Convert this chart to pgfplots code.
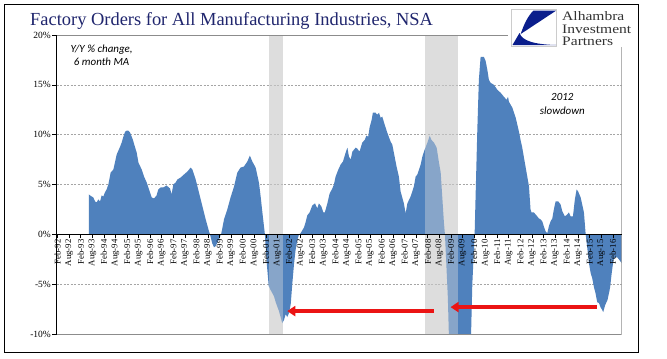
\documentclass[border=0pt]{standalone}
\usepackage{pgfplots}
\pgfplotsset{compat=1.18}
\usepackage{fontspec}
\setmainfont{Liberation Serif}
\newfontfamily\calib{Carlito}
\usetikzlibrary{arrows.meta}
\definecolor{areablue}{RGB}{79,129,189}
\definecolor{bandgray}{RGB}{221,221,221}
\definecolor{titleblue}{RGB}{32,38,110}
\definecolor{logoblue}{RGB}{10,30,140}
\definecolor{arrowred}{RGB}{235,20,20}
\definecolor{gridgray}{RGB}{165,165,165}
\definecolor{bordergray}{RGB}{140,140,140}

\pgfplotstableread{
m v
17.2 4.0
17.8 3.9
19.5 3.7
20.4 3.3
21.2 3.2
22.1 3.5
23.0 3.3
23.8 3.9
24.7 3.8
25.5 4.2
26.4 4.5
27.3 5.0
28.5 6.2
29.9 6.5
30.7 7.2
31.6 8.0
33.4 8.8
34.2 9.2
35.1 9.8
36.0 10.3
36.8 10.4
37.7 10.4
38.6 10.2
40.0 9.5
41.2 8.7
42.0 8.2
42.9 7.2
44.6 6.5
45.8 5.8
47.2 5.2
48.9 4.2
49.8 3.7
51.0 3.6
52.3 3.9
53.2 4.5
54.4 4.7
55.8 4.7
57.5 4.9
59.3 4.6
60.1 4.0
61.0 5.0
62.2 5.2
63.1 5.5
64.8 5.7
66.5 6.0
68.3 6.3
70.0 6.7
70.9 6.5
72.6 5.5
74.3 4.2
76.1 2.8
77.8 1.5
79.5 0.3
80.0 0
81.2 -0.9
82.1 -1.3
82.9 -1.2
84.7 -0.5
85.9 0.1
87.3 1.5
89.0 2.5
90.7 3.7
92.5 4.8
94.2 6.2
95.9 6.7
97.6 6.8
99.4 7.3
100.7 7.9
102.0 7.3
103.7 6.7
105.4 5.2
106.3 3.8
107.2 2.2
108.5 0
109.5 -3.0
110.5 -5.2
111.5 -5.6
113.2 -6.2
114.1 -6.8
115.8 -7.7
117.5 -8.9
118.4 -8.6
119.3 -8.0
120.1 -8.3
121.0 -7.9
121.9 -7.0
122.7 -5.0
123.6 -3.0
124.4 -1.6
125.3 -0.6
126.2 0
127.0 0.1
127.9 0.4
128.8 0.7
129.6 1.2
130.5 1.9
131.7 2.2
133.1 2.9
134.5 3.1
135.7 2.6
136.5 3.1
137.8 2.8
138.8 2.2
139.6 2.2
140.9 3.1
142.1 4.1
143.5 4.6
144.3 5.0
145.2 5.8
146.6 6.5
147.8 7.0
149.0 7.3
150.4 8.2
151.3 8.7
152.1 7.8
153.0 7.5
153.9 8.3
155.6 8.7
156.4 8.6
157.6 8.3
159.0 9.2
160.4 9.5
161.1 9.9
162.1 9.8
162.8 10.7
163.9 11.5
164.5 12.2
165.9 12.2
166.8 12.0
167.7 12.2
168.5 11.7
169.4 11.8
170.8 10.9
172.0 10.2
173.7 9.3
174.6 9.0
175.4 8.2
176.8 6.8
178.0 5.8
178.9 4.3
180.6 3.1
181.5 2.1
182.4 3.1
184.1 3.8
185.8 4.8
186.7 5.8
187.6 6.0
189.3 7.0
190.2 7.8
191.4 8.5
192.8 9.2
194.0 9.9
194.8 9.5
196.2 9.2
197.6 8.7
198.8 7.2
199.7 6.2
200.5 3.8
201.4 1.1
201.9 0
202.6 -2.9
203.4 -6.3
204.0 -10.5
205.0 -18
207.0 -24
210.0 -24
213.0 -20
215.2 -12
216.1 -5
217.3 0
217.8 3.8
218.7 10.5
219.5 15.5
220.4 17.8
222.1 17.8
223.0 17.4
223.9 16.5
224.7 15.5
225.6 15.2
227.3 15.0
229.1 14.5
230.8 14.2
232.5 13.8
233.9 13.5
234.6 13.8
235.1 13.3
236.9 12.7
238.6 11.7
240.3 10.3
241.1 9.5
242.0 8.7
242.8 7.8
243.7 6.8
244.6 5.8
245.5 4.8
246.3 2.5
246.8 2.2
248.0 2.2
248.9 2.0
249.8 1.8
250.6 1.6
251.5 1.5
252.4 1.3
253.2 0.8
254.1 0.3
255.0 0.1
255.8 0.8
256.7 1.3
257.6 1.6
258.4 2.5
259.3 3.3
260.7 3.3
261.9 3.0
262.8 2.3
264.1 1.8
265.4 2.0
266.2 2.2
267.1 1.8
268.3 1.8
269.3 3.5
270.2 4.5
271.0 4.3
272.3 3.7
273.1 3.0
274.0 2.2
274.9 0
275.7 -1.3
276.6 -2.9
277.5 -3.9
278.3 -4.4
279.2 -5.3
280.0 -5.9
280.9 -6.8
281.8 -6.9
282.6 -7.3
283.5 -7.6
284.0 -7.8
285.0 -7.1
286.2 -6.6
287.0 -5.9
287.6 -5.3
288.4 -3.9
289.3 -2.6
290.1 -2.3
291.3 -2.3
292.5 -2.6
293.6 -2.9
}\orders

\begin{document}
\begin{tikzpicture}[x=1bp,y=1bp]
\path[use as bounding box] (0,0) rectangle (667,358);
\fill[white] (0,0) rectangle (667,358);
\begin{axis}[
  at={(56.5bp,24bp)}, anchor=south west,
  scale only axis, width=565.2bp, height=299bp,
  xmin=0.4, xmax=293.6, ymin=-10, ymax=20,
  axis x line=middle, axis y line=left,
  axis line style={-, black, line width=0.7bp},
  hide obscured x ticks=false, hide obscured y ticks=false,
  axis on top,
  tick align=outside, major tick length=4bp,
  tick style={black, line width=0.6bp},
  xtick={1,7,...,289},
  xticklabels={Feb-92,Aug-92,Feb-93,Aug-93,Feb-94,Aug-94,Feb-95,Aug-95,Feb-96,Aug-96,Feb-97,Aug-97,Feb-98,Aug-98,Feb-99,Aug-99,Feb-00,Aug-00,Feb-01,Aug-01,Feb-02,Aug-02,Feb-03,Aug-03,Feb-04,Aug-04,Feb-05,Aug-05,Feb-06,Aug-06,Feb-07,Aug-07,Feb-08,Aug-08,Feb-09,Aug-09,Feb-10,Aug-10,Feb-11,Aug-11,Feb-12,Aug-12,Feb-13,Aug-13,Feb-14,Aug-14,Feb-15,Aug-15,Feb-16},
  xticklabel style={rotate=90, anchor=east, inner sep=1bp, font=\fontsize{8.8}{8.8}\selectfont},
  ytick={-10,-5,0,5,10,15,20},
  yticklabels={-10\%,-5\%,0\%,5\%,10\%,15\%,20\%},
  yticklabel style={inner sep=1.5bp, font=\fontsize{9.5}{9.5}\selectfont},
  clip=true,
]
% recession bands (underlay)
\fill[bandgray] (axis cs:110.5,-10) rectangle (axis cs:117.8,20);
\fill[bandgray] (axis cs:191.4,-10) rectangle (axis cs:208.6,20);
% grid
\foreach \g in {15,10,5,-5}{
  \edef\tmp{\noexpand\draw[gridgray, line width=0.5bp, dash pattern=on 2bp off 1.5bp] (axis cs:0.4,\g) -- (axis cs:293.6,\g);}\tmp
}
\addplot[fill=areablue, draw=none] table[x=m, y=v] {\orders} \closedcycle;
% recession bands overlay
\fill[bandgray, fill opacity=0.4] (axis cs:110.5,-10) rectangle (axis cs:117.8,20);
\fill[bandgray, fill opacity=0.4] (axis cs:191.4,-10) rectangle (axis cs:208.6,20);
% border
\draw[bordergray, line width=0.7bp] (rel axis cs:0,1) -- (rel axis cs:1,1) -- (rel axis cs:1,0) -- (rel axis cs:0,0);
% arrows
\draw[arrowred, line width=3.2bp, -{Triangle[length=8bp,width=10bp]}] (axis cs:196.0,-7.7) -- (axis cs:120.1,-7.7);
\draw[arrowred, line width=3.2bp, -{Triangle[length=8bp,width=10bp]}] (axis cs:280.6,-7.3) -- (axis cs:204.8,-7.3);
% annotations
\node[font=\calib\itshape\fontsize{11}{12.7}\selectfont, align=center, inner sep=0] at (axis cs:23.8,18.0) {Y/Y \% change,\\6 month MA};
\node[font=\calib\itshape\fontsize{11}{14}\selectfont, align=center, inner sep=0] at (axis cs:262.8,13.1) {2012\\slowdown};
\end{axis}
% title
\node[anchor=base west, inner sep=0, text=titleblue, font=\fontsize{18.5}{18.5}\selectfont] at (30,333) {Factory Orders for All Manufacturing Industries, NSA};
% logo
\fill[white] (508,311) rectangle (637,352);
\draw[black!20, line width=0.8bp, fill=white] (511.7,312) rectangle (556.7,348.7);
\fill[logoblue] (533.3,347.3) -- (556,347.3) -- (520.7,324) .. controls (524,334) and (528,342) .. cycle;
\fill[logoblue] (512.5,313) -- (519.5,325) .. controls (522,317) and (535,313.5) .. (556,313) -- cycle;
\node[anchor=base west, inner sep=0, text=black!80, font=\fontsize{13}{13}\selectfont] at (562,337.3) {\scalebox{1.2}[1]{Alhambra}};
\node[anchor=base west, inner sep=0, text=black!80, font=\fontsize{13}{13}\selectfont] at (562,324.7) {\scalebox{1.2}[1]{Investment}};
\node[anchor=base west, inner sep=0, text=black!80, font=\fontsize{13}{13}\selectfont] at (562,313) {\scalebox{1.2}[1]{Partners}};
% outer frame
\draw[black, line width=0.9bp] (4,6) rectangle (638,354);
\end{tikzpicture}
\end{document}
